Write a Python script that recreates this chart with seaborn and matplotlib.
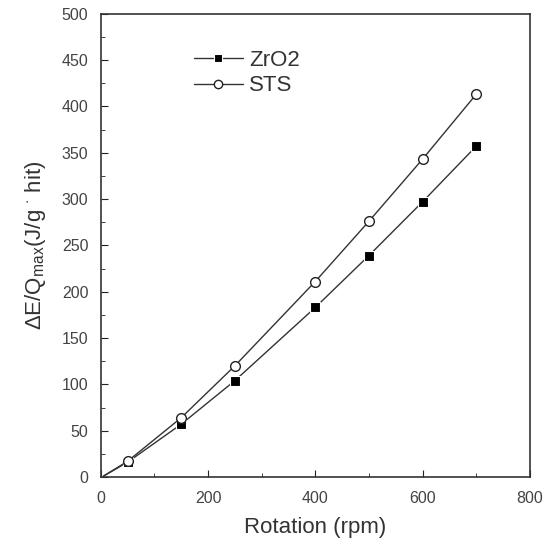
import pandas as pd
import matplotlib.pyplot as plt
import seaborn as sns
from matplotlib.ticker import MultipleLocator

# line starts near the origin; markers only at the measured speeds
rpm = [5, 50, 150, 250, 400, 500, 600, 700]
zro2 = [1, 16, 57, 104, 183, 239, 297, 357]
sts = [1, 17, 64, 120, 211, 276, 343, 413]

df = pd.DataFrame({"rpm": rpm, "ZrO2": zro2, "STS": sts})

sns.set_style("ticks")
plt.rcParams["font.family"] = ["Liberation Sans", "DejaVu Sans"]
plt.rcParams["text.color"] = "#333333"
plt.rcParams["axes.labelcolor"] = "#333333"
plt.rcParams["xtick.color"] = "#222222"
plt.rcParams["ytick.color"] = "#222222"
plt.rcParams["xtick.labelcolor"] = "#444444"
plt.rcParams["ytick.labelcolor"] = "#444444"
plt.rcParams["mathtext.fontset"] = "custom"
plt.rcParams["mathtext.rm"] = "Liberation Sans"
plt.rcParams["mathtext.it"] = "Liberation Sans"

fig = plt.figure(figsize=(5.45, 5.38), dpi=100)
ax = fig.add_axes([0.185, 0.1134, 0.787, 0.861])

marks = list(range(1, len(rpm)))
sns.lineplot(data=df, x="rpm", y="ZrO2", ax=ax, color="#333333", lw=1,
             marker="s", markersize=7, markerfacecolor="black",
             markeredgecolor="white", markeredgewidth=0.8,
             markevery=marks, label="ZrO2")
sns.lineplot(data=df, x="rpm", y="STS", ax=ax, color="#333333", lw=1,
             marker="o", markersize=7, markerfacecolor="white",
             markeredgecolor="#222222", markeredgewidth=1,
             markevery=marks, label="STS")

ax.set_xlim(0, 800)
ax.set_ylim(0, 500)
ax.xaxis.set_major_locator(MultipleLocator(200))
ax.xaxis.set_minor_locator(MultipleLocator(100))
ax.yaxis.set_major_locator(MultipleLocator(50))
ax.yaxis.set_minor_locator(MultipleLocator(25))
ax.tick_params(which="both", direction="in", labelsize=11.5)
ax.tick_params(which="major", length=5)
ax.tick_params(which="minor", length=3)
ax.tick_params(axis="x", which="major", pad=10)
ax.tick_params(axis="y", which="major", pad=9)
for s in ax.spines.values():
    s.set_linewidth(1.2)
    s.set_color("#333333")

ax.set_xlabel("Rotation (rpm)", fontsize=16, labelpad=8)
ax.set_ylabel(r"$\Delta$E/Q$_{\mathrm{max}}$(J/g $^{\cdot}$ hit)", fontsize=16,
              labelpad=10)

leg = ax.legend(loc="upper left", bbox_to_anchor=(0.17, 0.965), frameon=False,
                fontsize=16, handlelength=2.2, handletextpad=0.3,
                labelspacing=0.2)
for h in leg.legend_handles:
    h.set_markersize(6)

fig.savefig("out.png", dpi=100)
